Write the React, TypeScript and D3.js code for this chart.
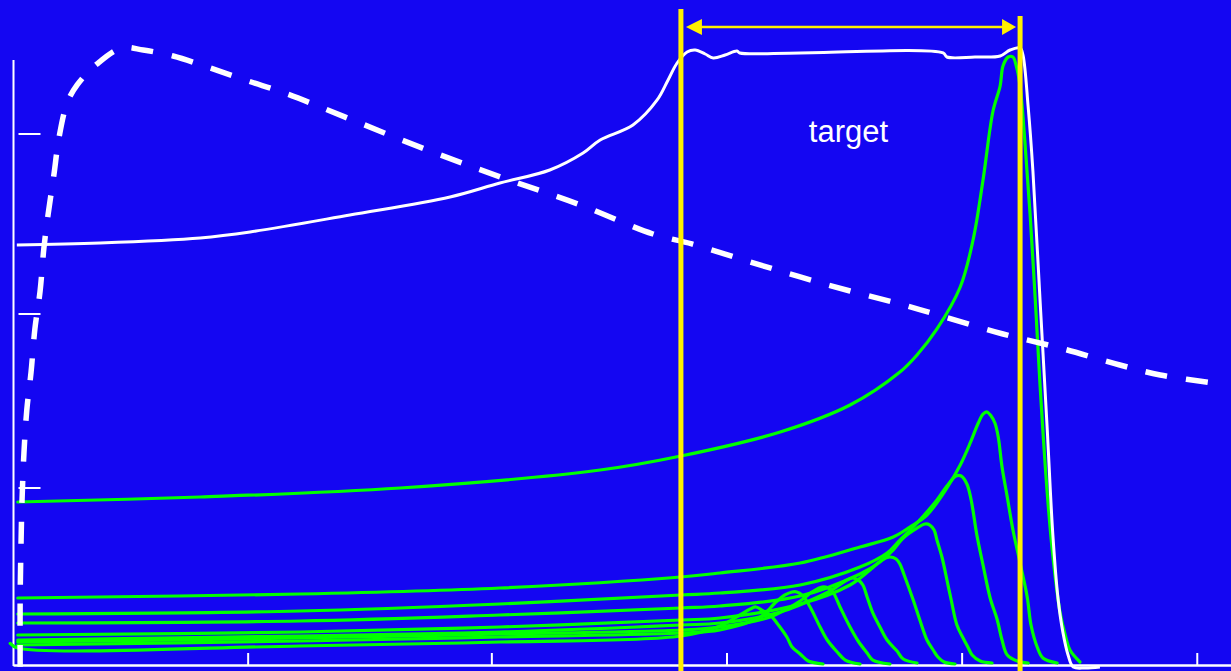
import React from "react";
import * as d3 from "d3";

// depth in cm, dose in % (relative)
const depthTicks = [4.94, 10.07, 15.02, 19.97, 24.92];
const doseTicks = [29.5, 58.5, 88.5];

const targetStart = 14.05;
const targetEnd = 21.19;
const targetLabel = "target";

// photon depth-dose (dashed)
const photonCurve: [number, number][] = [
  [0.14, -0.3], [0.14, 10.83], [0.16, 20.83], [0.18, 27.5], [0.22, 35.33], [0.28, 42.5],
  [0.37, 48.83], [0.45, 56], [0.56, 62.33], [0.64, 69.5], [0.73, 75.17], [0.85, 81.67],
  [0.96, 88], [1.13, 93.67], [1.34, 96.67], [1.76, 100.17], [2.28, 102.83], [2.73, 102.5],
  [3.36, 101.5], [4.14, 99.5], [4.94, 97.33], [5.76, 95.17], [7.08, 91], [8.71, 85.83],
  [10.31, 81.17], [11.88, 76.83], [13.46, 71.83], [14.28, 70.17], [15.51, 67.17],
  [16.56, 64.67], [17.61, 62.33], [18.66, 60.17], [19.61, 58], [20.83, 55.17],
  [22.03, 52.83], [23.29, 50], [24.14, 48.33], [25.42, 46.83],
];

// spread-out Bragg peak (white solid)
const sobpCurve: [number, number][] = [
  [0.07, 70], [1.82, 70.33], [3.93, 71.17], [4.98, 72.17], [7.08, 75], [9.19, 78],
  [10.24, 80.33], [11.29, 82.5], [11.99, 85.33], [12.35, 87.5], [13.04, 90], [13.55, 94.17],
  [13.78, 97.5], [13.97, 100.33], [14.18, 102.17], [14.35, 102.5], [14.56, 101.83],
  [14.73, 101.17], [14.98, 101.67], [15.23, 102.33], [15.29, 102], [16.56, 102],
  [19.57, 102], [19.65, 101.33], [20.24, 101.33], [20.77, 101.5], [20.98, 102.5],
  [21.19, 102.83], [21.25, 101.67], [21.36, 93], [21.46, 82.33], [21.61, 60.83],
  [21.76, 39.5], [21.88, 21.67], [21.99, 11], [22.09, 5.5], [22.2, 1.67], [22.31, -0.33],
  [22.56, -0.5], [22.87, -0.33],
];

// pristine Bragg peaks (green)
const peakMain: [number, number][] = [
  [0.09, 27.17], [3.93, 28], [8.14, 29.5], [12.35, 32.5], [14.05, 34.83], [16.14, 38.83],
  [17.61, 43.33], [18.66, 48.83], [19.02, 51.67], [19.44, 56], [19.93, 63], [20.2, 70.83],
  [20.41, 80.83], [20.62, 92.33], [20.77, 96.5], [20.83, 99.83], [20.94, 101.33],
  [21.04, 101.33], [21.11, 99.83], [21.19, 96.5], [21.29, 87.33], [21.4, 75.17],
  [21.51, 60.83], [21.61, 46.67], [21.76, 28.83], [21.88, 18.17], [22.03, 8.83],
  [22.14, 5], [22.24, 2.5], [22.45, 0.5],
];
const peakA: [number, number][] = [
  [0.09, 11.17], [6.03, 11.83], [10.24, 12.83], [14.05, 14.67], [14.87, 15.33], [16.56, 17],
  [17.82, 19.67], [18.52, 21.33], [18.87, 23], [19.23, 25], [19.65, 29.5], [19.93, 33.33],
  [20.14, 37], [20.31, 40.33], [20.41, 41.83], [20.49, 42.17], [20.58, 41.5], [20.66, 40.33],
  [20.73, 38], [20.81, 33], [20.92, 28], [21.04, 22.5], [21.19, 17], [21.34, 11.33],
  [21.42, 6.67], [21.55, 3], [21.67, 1.17], [21.97, 0.33],
];
const peakB: [number, number][] = [
  [0.09, 8.5], [6.03, 9], [10.24, 10.17], [14.05, 11.67], [14.87, 12], [16.56, 13.33],
  [17.82, 16.33], [18.39, 18.67], [18.66, 20.83], [19.02, 23.67], [19.44, 27.5],
  [19.65, 29.83], [19.84, 31.5], [19.95, 31.5], [20.07, 30.17], [20.16, 27.5],
  [20.28, 21.67], [20.41, 16.67], [20.56, 11.17], [20.71, 7.5], [20.81, 4.17],
  [20.92, 1.67], [21.13, 0.67], [21.36, 0.33],
];
const peakC: [number, number][] = [
  [0.09, 7], [6.03, 7.33], [10.24, 8.33], [14.05, 9.5], [14.87, 9.83], [16.56, 11.5],
  [17.82, 15.17], [18.24, 17.17], [18.52, 19.17], [18.73, 21.17], [19.02, 22.83],
  [19.19, 23.5], [19.29, 23.33], [19.38, 22.5], [19.44, 20.83], [19.55, 17.83],
  [19.65, 14.17], [19.74, 10.83], [19.86, 6.67], [19.99, 4.5], [20.09, 3], [20.18, 1.67],
  [20.35, 0.67], [20.6, 0.33],
];
const peakD: [number, number][] = [
  [0.09, 5], [6.03, 5.5], [10.24, 6.33], [14.05, 7.5], [14.87, 7.83], [16.56, 10.17],
  [17.61, 13.33], [18.03, 15.83], [18.28, 17.5], [18.45, 18], [18.58, 17.67], [18.66, 16.83],
  [18.75, 15], [18.94, 10.83], [19.08, 7.5], [19.23, 4.17], [19.36, 2.5], [19.46, 1.33],
  [19.59, 0.5], [19.82, 0.17],
];
const peakE: [number, number][] = [
  [0.09, 4.17], [6.03, 4.83], [10.24, 5.5], [14.05, 6.67], [14.87, 7], [16.14, 8.83],
  [16.98, 11.5], [17.29, 12.83], [17.51, 14], [17.65, 14.5], [17.78, 14.17], [17.88, 13.33],
  [17.97, 11.33], [18.09, 8.67], [18.24, 6.33], [18.39, 4.17], [18.6, 2.33], [18.73, 1],
  [19.02, 0.33],
];
const peakF: [number, number][] = [
  [0.09, 3.83], [6.03, 4.5], [10.24, 5.17], [14.05, 5.83], [14.87, 6.33], [15.93, 8],
  [16.56, 10.67], [16.81, 12.17], [17.02, 13], [17.15, 12.83], [17.25, 12.17], [17.4, 9.67],
  [17.61, 6.33], [17.78, 4], [17.97, 2], [18.09, 0.83], [18.45, 0.17],
];
const peakG: [number, number][] = [
  [0.09, 3.33], [6.03, 4], [10.24, 4.67], [14.05, 5.33], [14.87, 5.83], [15.72, 8],
  [16.03, 10.33], [16.24, 11.67], [16.39, 12.17], [16.49, 12.17], [16.62, 11.5],
  [16.77, 9.67], [16.98, 6.33], [17.13, 4.17], [17.34, 2.17], [17.51, 0.83], [17.82, 0.17],
];
const peakH: [number, number][] = [
  [-0.07, 3.6], [0.09, 2.83], [6.03, 3.17], [10.24, 3.83], [14.05, 4.83], [14.87, 6.5],
  [15.29, 8.33], [15.51, 9.33], [15.63, 9.67], [15.78, 9], [15.93, 8.33], [16.07, 7],
  [16.28, 4.67], [16.39, 3], [16.56, 1.83], [16.73, 0.67], [17.04, 0.17],
];

const greenCurves = [peakH, peakG, peakF, peakE, peakD, peakC, peakB, peakA, peakMain];

const BG = "#1406F2";
const GREEN = "#00FF00";
const YELLOW = "#FFF000";
const WHITE = "#FFFFFF";

export default function App() {
  const W = 1231;
  const H = 671;
  const x = d3.scaleLinear().domain([0, 25.63]).range([13.5, 1231]);
  const y = d3.scaleLinear().domain([0, 110.83]).range([665, 0]);
  const line = d3
    .line<[number, number]>()
    .x((d) => x(d[0]))
    .y((d) => y(d[1]))
    .curve(d3.curveCatmullRom.alpha(0.5));

  const x0 = x(0);
  const y0 = y(0);
  const arrowY = y(106.33);
  const xs = x(targetStart);
  const xe = x(targetEnd);

  return (
    <svg
      width={W}
      height={H}
      style={{ position: "absolute", left: 0, top: 0, display: "block" }}
    >
      <rect x={0} y={0} width={W} height={H} fill={BG} />
      {/* axes */}
      <line x1={x0} x2={x0} y1={y(100.83)} y2={y0 + 1} stroke={WHITE} strokeWidth={2} />
      <line x1={x0} x2={W} y1={y0 + 0.5} y2={y0 + 0.5} stroke={WHITE} strokeWidth={2.5} />
      {depthTicks.map((t) => (
        <line key={"xt" + t} x1={x(t)} x2={x(t)} y1={y0 - 12} y2={y0} stroke={WHITE} strokeWidth={2} />
      ))}
      {doseTicks.map((t) => (
        <line key={"yt" + t} x1={x0 + 5} x2={x0 + 27} y1={y(t)} y2={y(t)} stroke={WHITE} strokeWidth={2} />
      ))}
      {/* green Bragg peaks */}
      {greenCurves.map((c, i) => (
        <path
          key={"g" + i}
          d={line(c) || ""}
          fill="none"
          stroke={GREEN}
          strokeWidth={3.2}
          strokeLinejoin="round"
          strokeLinecap="round"
        />
      ))}
      {/* SOBP */}
      <path d={line(sobpCurve) || ""} fill="none" stroke={WHITE} strokeWidth={3} strokeLinejoin="round" />
      {/* photon dashed */}
      <path
        d={line(photonCurve) || ""}
        fill="none"
        stroke={WHITE}
        strokeWidth={5.5}
        strokeDasharray="22 19"
      />
      {/* target markers */}
      <line x1={xs} x2={xs} y1={y(109.33)} y2={H} stroke={YELLOW} strokeWidth={5} />
      <line x1={xe} x2={xe} y1={y(108.17)} y2={H} stroke={YELLOW} strokeWidth={5} />
      <line x1={xs + 12} x2={xe - 12} y1={arrowY} y2={arrowY} stroke={YELLOW} strokeWidth={2.5} />
      <polygon
        points={`${xs + 5},${arrowY} ${xs + 21},${arrowY - 8} ${xs + 21},${arrowY + 8}`}
        fill={YELLOW}
      />
      <polygon
        points={`${xe - 4},${arrowY} ${xe - 18},${arrowY - 8} ${xe - 18},${arrowY + 8}`}
        fill={YELLOW}
      />
      <text
        x={x((targetStart + targetEnd) / 2) - 2}
        y={y(87.2)}
        fill={WHITE}
        fontSize={31}
        fontFamily="'Liberation Sans', Arial, sans-serif"
        textAnchor="middle"
      >
        {targetLabel}
      </text>
    </svg>
  );
}
